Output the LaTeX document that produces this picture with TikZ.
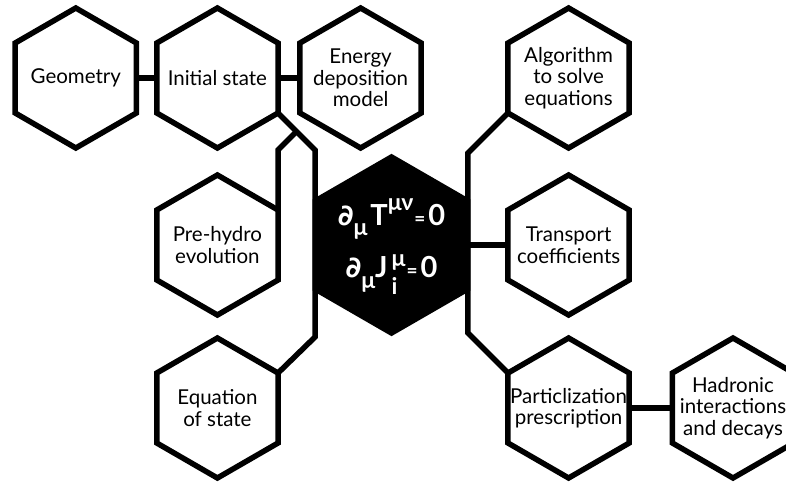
\documentclass[tikz,border=0pt]{standalone}
\usepackage{fontspec}
\setmainfont{Lato}
\newfontfamily\djv{DejaVu Sans}
\usetikzlibrary{shapes.geometric}
\newcommand{\pdsym}{{\djv\bfseries\fontsize{29}{29}\selectfont ∂}}
\newcommand{\scr}[2]{\raisebox{#1}{\fontsize{23}{23}\selectfont #2}}
\newcommand{\smeq}{{\kern1pt\fontsize{19}{19}\selectfont =\kern3pt}}
\begin{document}
\begin{tikzpicture}[x=1pt,y=-1pt,
  hexa/.style={regular polygon, regular polygon sides=6, shape border rotate=30,
    minimum size=140pt, inner sep=0pt, outer sep=0pt, draw=black, line width=5.5pt},
  lbl/.style={align=center, font=\fontsize{20.5}{21.5}\selectfont, text=black, inner sep=0pt},
  eqtxt/.style={align=center, font=\fontsize{29}{52}\selectfont\bfseries, text=white, inner sep=0pt},
  conn/.style={line width=5.5pt, draw=black, line join=miter}]
\useasboundingbox (0,0) rectangle (786,485);
% top row
\node[hexa, label={[lbl]center:Geometry}] (geo) at (75.8,78) {};
\node[hexa, label={[lbl]center:Initial state}] (init) at (217.4,78) {};
\node[hexa, label={[lbl]center:{Energy\\deposition\\model}}] (energy) at (360.6,78) {};
\node[hexa, label={[lbl]center:{Algorithm\\to solve\\equations}}] (alg) at (568.6,78) {};
% middle row
\node[hexa, label={[lbl]center:{Pre-hydro\\evolution}}] (pre) at (217.4,245) {};
\node[hexa, fill=black, minimum size=176pt] (eq) at (391.5,245) {};
\node[eqtxt] (eqt) at (391.5,247) {\pdsym\scr{-10pt}{μ}\kern3pt T\scr{15pt}{μν}\smeq 0\\
  \pdsym\scr{-11pt}{μ}J\kern4pt\rlap{\scr{-17pt}{i}}\scr{11pt}{μ}\smeq 0};
\node[hexa, label={[lbl]center:{Transport\\coefficients}}] (trans) at (568.6,245) {};
% bottom row
\node[hexa, label={[lbl]center:{Equation\\of state}}] (eos) at (217.4,408) {};
\node[hexa, label={[lbl]center:{Particlization\\prescription}}] (part) at (568.6,408) {};
\node[hexa, label={[lbl]center:{Hadronic\\interactions\\and decays}}] (had) at (733,408) {};
% connectors
\draw[conn] (geo.east) -- (init.west);
\draw[conn] (init.east) -- (energy.west);
\draw[conn] (init.330) -- coordinate[pos=0.5] (jl) ++(37,37) -- ++(0,187) -- (eos.30);
\draw[conn] (jl) -- ++(-18.5,18.5) -- (pre.30);
\draw[conn] (alg.210) -- ++(-40,40) -- ++(0,180) -- (part.150);
\draw[conn] (eq.east) -- (trans.west);
\draw[conn] (part.east) -- (had.west);
\end{tikzpicture}
\end{document}
